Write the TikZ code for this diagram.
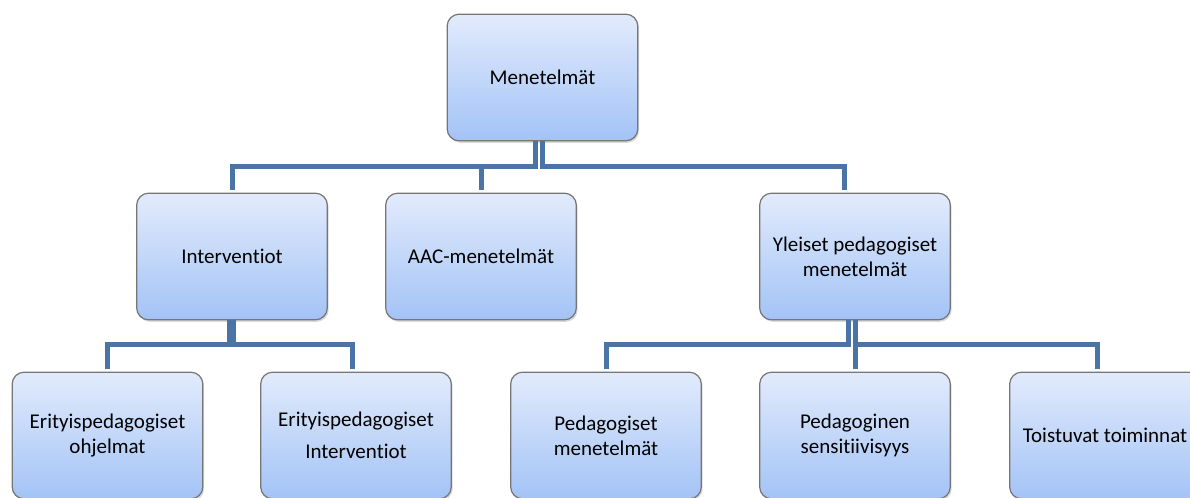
\documentclass[tikz,border=0pt]{standalone}
\usepackage{fontspec}
\setmainfont{Carlito}[Ligatures=NoCommon]
\usepackage{xcolor}
\usetikzlibrary{shadows}

\definecolor{boxtop}{RGB}{226,235,252}
\definecolor{boxbot}{RGB}{163,195,246}
\definecolor{boxedge}{RGB}{118,118,118}
\definecolor{linkblue}{RGB}{74,115,166}

\begin{document}
\begin{tikzpicture}[x=0.75pt,y=-0.75pt,
    box/.style={draw=boxedge, line width=0.9pt, rounded corners=9pt,
        top color=boxtop, bottom color=boxbot,
        minimum width=143pt, minimum height=95pt, align=center,
        font=\fontsize{15.75}{18.75}\selectfont,
        drop shadow={opacity=0.3, shadow xshift=1pt, shadow yshift=-1.5pt}},
    link/.style={draw=linkblue, line width=3.75pt, shorten >=2.25pt}]
    \useasboundingbox (0,0) rectangle (1190,497);
    \clip (0,0) rectangle (1190,497);

    % top and second row
    \node[box] (men) at (542.5,77.5) {Menetelmät};
    \node[box] (int) at (232,256.5) {Interventiot};
    \node[box] (aac) at (481,256.5) {AAC-menetelmät};
    \node[box] (yle) at (855,256.5) {Yleiset pedagogiset\\menetelmät};

    % third row
    \node[box] (eso) at (107.5,435.5) {Erityispedagogiset\\ohjelmat};
    \node[box] (esi) at (356,435.5) {Erityispedagogiset\\[5.25pt]Interventiot};
    \node[box] (ped) at (606,435.5) {Pedagogiset\\menetelmät};
    \node[box] (sen) at (855,435.5) {Pedagoginen\\sensitiivisyys};
    \node[box] (toi) at (1105,435.5) {Toistuvat toiminnat};

    % bus lines
    \coordinate (bus1) at (0,166);
    \coordinate (bus2) at (0,344);
    \coordinate (yin) at ([xshift=-8.25pt]yle.north);
    \coordinate (esin) at ([xshift=-3pt]esi.north);
    \coordinate (toin) at ([xshift=-6pt]toi.north);

    \draw[link] ([xshift=-5.25pt]men.south) |- (int.north |- bus1) -- (int.north);
    \draw[link] (aac.north |- bus1) -- (aac.north);
    \draw[link] (men.south) |- (yin |- bus1) -- (yin);

    \draw[link] ([xshift=-2.25pt]int.south) |- (eso.north |- bus2) -- (eso.north);
    \draw[link] ([xshift=0.75pt]int.south) |- (esin |- bus2) -- (esin);

    \draw[link] ([xshift=-5.25pt]yle.south) |- (ped.north |- bus2) -- (ped.north);
    \draw[link] (yle.south) -- (sen.north);
    \draw[link] (yle.south) |- (toin |- bus2) -- (toin);
\end{tikzpicture}
\end{document}
